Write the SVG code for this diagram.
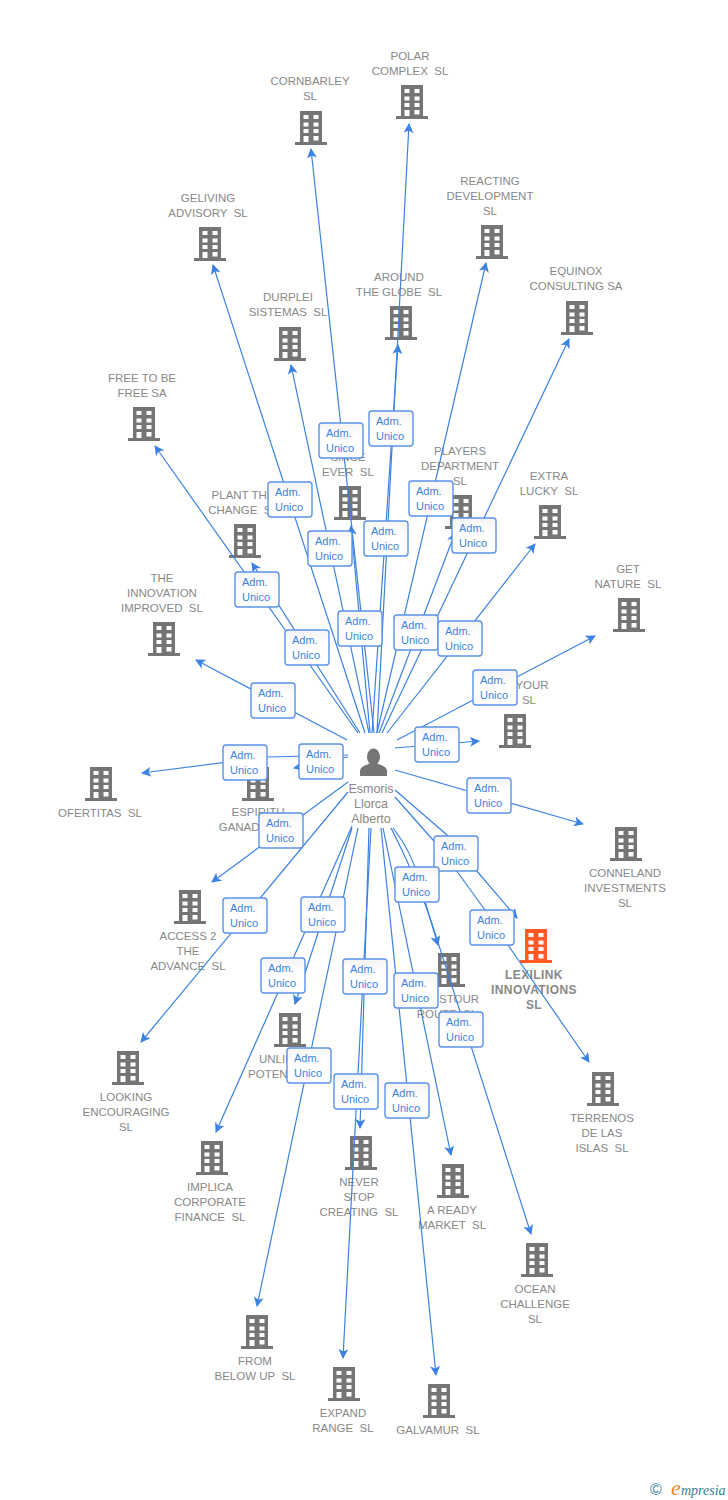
<svg xmlns="http://www.w3.org/2000/svg" width="728" height="1500" viewBox="0 0 728 1500">
<style>
.n{font:11.500px "Liberation Sans",Arial,sans-serif;fill:#888;text-anchor:middle;white-space:pre}
.b{font-size:12px;font-weight:700;letter-spacing:.4px}
.p{font-size:12.500px}
.c line,.c path{stroke:#3b82e3;stroke-width:1.2;fill:none;marker-end:url(#a)}
.r{fill:url(#g);stroke:#5b93e6;stroke-width:1.4}
.s{font:11px "Liberation Sans",Arial,sans-serif;fill:#3d82e0}
</style>
<defs>
<marker id="a" viewBox="0 0 10 10" refX="9" refY="5" markerWidth="10" markerHeight="10" markerUnits="userSpaceOnUse" orient="auto"><path d="M0 0L10 5L0 10L2.500 5Z" fill="#3b82e3" stroke="none"/></marker>
<linearGradient id="g" x1="0" y1="0" x2="0" y2="1"><stop offset="0" stop-color="#f4f4f4"/><stop offset=".4" stop-color="#fff"/></linearGradient>
<path id="t" fill-rule="evenodd" d="M-11 0H11V31H16V34H-16V31H-11ZM-7.500 4V8H-2.500V4ZM2.500 4V8H7.500V4ZM-7.500 11.500V15.500H-2.500V11.500ZM2.500 11.500V15.500H7.500V11.500ZM-7.500 18V22H-2.500V18ZM2.500 18V22H7.500V18ZM-7.500 25V31H-2.500V25ZM2.500 25V29.500H7.500V25Z"/>
<g id="s"><rect class="r" width="44" height="35" rx="3"/><text class="s" x="7" y="14">Adm.</text><text class="s" x="7" y="29">Unico</text></g>
</defs>
<g id="texts">
<text class="n" x="310" y="85">CORNBARLEY</text><text class="n" x="310" y="100">SL</text>
<text class="n" x="410" y="60">POLAR</text><text class="n" x="410" y="75">COMPLEX  SL</text>
<text class="n" x="208" y="202">GELIVING</text><text class="n" x="208" y="217">ADVISORY  SL</text>
<text class="n" x="490" y="185">REACTING</text><text class="n" x="490" y="200">DEVELOPMENT</text><text class="n" x="490" y="215">SL</text>
<text class="n" x="399" y="281">AROUND</text><text class="n" x="399" y="296">THE GLOBE  SL</text>
<text class="n" x="288" y="301">DURPLEI</text><text class="n" x="288" y="316">SISTEMAS  SL</text>
<text class="n" x="576" y="275">EQUINOX</text><text class="n" x="576" y="290">CONSULTING SA</text>
<text class="n" x="142" y="382">FREE TO BE</text><text class="n" x="142" y="397">FREE SA</text>
<text class="n" x="348" y="461">SINCE</text><text class="n" x="348" y="476">EVER  SL</text>
<text class="n" x="460" y="455">PLAYERS</text><text class="n" x="460" y="470">DEPARTMENT</text><text class="n" x="460" y="485">SL</text>
<text class="n" x="549" y="480">EXTRA</text><text class="n" x="549" y="495">LUCKY  SL</text>
<text class="n" x="243" y="499">PLANT THE</text><text class="n" x="243" y="514">CHANGE  SL</text>
<text class="n" x="628" y="573">GET</text><text class="n" x="628" y="588">NATURE  SL</text>
<text class="n" x="162" y="582">THE</text><text class="n" x="162" y="597">INNOVATION</text><text class="n" x="162" y="612">IMPROVED  SL</text>
<text class="n" x="532" y="689">YOUR</text><text class="n" x="529" y="704">SL</text>
<text class="n" x="100" y="817">OFERTITAS  SL</text>
<text class="n" x="258" y="816">ESPIRITU</text><text class="n" x="258" y="831">GANADOR  SL</text>
<text class="n" x="625" y="877">CONNELAND</text><text class="n" x="625" y="892">INVESTMENTS</text><text class="n" x="625" y="907">SL</text>
<text class="n" x="188" y="940">ACCESS 2</text><text class="n" x="188" y="955">THE</text><text class="n" x="188" y="970">ADVANCE  SL</text>
<text class="n b" x="534" y="979">LEXILINK</text><text class="n b" x="534" y="994">INNOVATIONS</text><text class="n b" x="534" y="1009">SL</text>
<text class="n" x="459" y="1003">STOUR</text><text class="n" x="447" y="1018">ROUTE  SL</text>
<text class="n" x="290" y="1063">UNLIMITED</text><text class="n" x="290" y="1078">POTENTIAL  SL</text>
<text class="n" x="126" y="1101">LOOKING</text><text class="n" x="126" y="1116">ENCOURAGING</text><text class="n" x="126" y="1131">SL</text>
<text class="n" x="602" y="1122">TERRENOS</text><text class="n" x="602" y="1137">DE LAS</text><text class="n" x="602" y="1152">ISLAS  SL</text>
<text class="n" x="210" y="1191">IMPLICA</text><text class="n" x="210" y="1206">CORPORATE</text><text class="n" x="210" y="1221">FINANCE  SL</text>
<text class="n" x="359" y="1186">NEVER</text><text class="n" x="359" y="1201">STOP</text><text class="n" x="359" y="1216">CREATING  SL</text>
<text class="n" x="452" y="1214">A READY</text><text class="n" x="452" y="1229">MARKET  SL</text>
<text class="n" x="535" y="1293">OCEAN</text><text class="n" x="535" y="1308">CHALLENGE</text><text class="n" x="535" y="1323">SL</text>
<text class="n" x="255" y="1365">FROM</text><text class="n" x="255" y="1380">BELOW UP  SL</text>
<text class="n" x="343" y="1417">EXPAND</text><text class="n" x="343" y="1432">RANGE  SL</text>
<text class="n" x="438" y="1434">GALVAMUR  SL</text>
</g>
<g fill="#757575">
<use id="polar" href="#t" x="412" y="85"/>
<use id="cornbarley" href="#t" x="311" y="111"/>
<use id="geliving" href="#t" x="210" y="227"/>
<use id="reacting" href="#t" x="492" y="225"/>
<use id="around" href="#t" x="401" y="306"/>
<use id="durplei" href="#t" x="290" y="327"/>
<use id="equinox" href="#t" x="577" y="301"/>
<use id="free" href="#t" x="144" y="407"/>
<use id="since" href="#t" x="350" y="486"/>
<use id="players" href="#t" x="461" y="495"/>
<use id="extra" href="#t" x="550" y="505"/>
<use id="plant" href="#t" x="245" y="524"/>
<use id="get" href="#t" x="629" y="598"/>
<use id="innovation" href="#t" x="164" y="622"/>
<use id="your" href="#t" x="515" y="714"/>
<use id="ofertitas" href="#t" x="101" y="767"/>
<use id="espiritu" href="#t" x="258" y="767"/>
<use id="conneland" href="#t" x="626" y="827"/>
<use id="access" href="#t" x="190" y="890"/>
<use id="lexilink" href="#t" x="536" y="929" fill="#ff5a26"/>
<use id="stour" href="#t" x="449" y="953"/>
<use id="unlimited" href="#t" x="290" y="1013"/>
<use id="looking" href="#t" x="128" y="1051"/>
<use id="terrenos" href="#t" x="603" y="1072"/>
<use id="implica" href="#t" x="212" y="1141"/>
<use id="never" href="#t" x="361" y="1136"/>
<use id="aready" href="#t" x="453" y="1164"/>
<use id="ocean" href="#t" x="537" y="1243"/>
<use id="from" href="#t" x="257" y="1315"/>
<use id="expand" href="#t" x="344" y="1367"/>
<use id="galvamur" href="#t" x="439" y="1384"/>
</g>
<g id="connectors" class="c">
<line x1="377" y1="733" x2="409" y2="124"/>
<line x1="374" y1="733" x2="311" y2="149"/>
<line x1="365" y1="733" x2="213" y2="265"/>
<line x1="377" y1="733" x2="486" y2="263"/>
<line x1="372" y1="733" x2="398" y2="345"/>
<line x1="369" y1="733" x2="291" y2="365"/>
<line x1="382" y1="733" x2="569" y2="339"/>
<line x1="358" y1="733" x2="155" y2="446"/>
<line x1="370" y1="733" x2="351" y2="526"/>
<line x1="379" y1="733" x2="455" y2="533"/>
<line x1="387" y1="733" x2="535" y2="544"/>
<line x1="360" y1="733" x2="252" y2="563"/>
<line x1="397" y1="740" x2="595" y2="636"/>
<line x1="347" y1="740" x2="196" y2="660"/>
<line x1="395" y1="748" x2="479" y2="741"/>
<path d="M348 755L267 757L142 773"/>
<line x1="348" y1="757" x2="294" y2="768"/>
<line x1="395" y1="770" x2="583" y2="824"/>
<line x1="348" y1="782" x2="212" y2="882"/>
<path d="M395 790L447 835L476 870L517 918"/>
<path d="M393 828Q412 852 418 878L438 945"/>
<path d="M395 797L433 840L456 870L485 910L508 945L589 1062"/>
<line x1="348" y1="792" x2="141" y2="1042"/>
<line x1="352" y1="828" x2="295" y2="1004"/>
<line x1="352" y1="826" x2="216" y2="1132"/>
<line x1="369" y1="828" x2="360" y2="1128"/>
<line x1="383" y1="828" x2="451" y2="1155"/>
<path d="M391 828Q420 885 435 933L531 1234"/>
<line x1="358" y1="828" x2="257" y2="1306"/>
<line x1="371" y1="828" x2="343" y2="1358"/>
<line x1="381" y1="828" x2="436" y2="1375"/>
</g>
<g id="person">
<ellipse cx="373.500" cy="757" rx="6.500" ry="8.500" fill="#757575"/>
<path d="M360 776V771Q360 767 366 765L371 763H376L381 765Q387 767 387 771V776Z" fill="#757575"/>
<text class="n p" x="371" y="793">Esmoris</text><text class="n p" x="371" y="808">Llorca</text><text class="n p" x="371" y="823">Alberto</text>
</g>
<g id="labels">
<use href="#s" x="319" y="423"/><use href="#s" x="369" y="411"/><use href="#s" x="268" y="482"/><use href="#s" x="409" y="481"/>
<use href="#s" x="364" y="521"/><use href="#s" x="308" y="531"/><use href="#s" x="452" y="518"/><use href="#s" x="235" y="572"/>
<use href="#s" x="285" y="630"/><use href="#s" x="338" y="611"/><use href="#s" x="394" y="615"/><use href="#s" x="438" y="621"/>
<use href="#s" x="473" y="670"/><use href="#s" x="251" y="683"/><use href="#s" x="415" y="727"/><use href="#s" x="223" y="745"/>
<use href="#s" x="299" y="744"/><use href="#s" x="467" y="778"/><use href="#s" x="259" y="813"/><use href="#s" x="434" y="836"/>
<use href="#s" x="395" y="867"/><use href="#s" x="470" y="910"/><use href="#s" x="223" y="898"/><use href="#s" x="301" y="897"/>
<use href="#s" x="261" y="958"/><use href="#s" x="343" y="959"/><use href="#s" x="394" y="973"/><use href="#s" x="439" y="1012"/>
<use href="#s" x="287" y="1048"/><use href="#s" x="334" y="1074"/><use href="#s" x="385" y="1083"/>
</g>
<g id="logo">
<text x="650" y="1495" font-family="'Liberation Sans',sans-serif" font-size="16" fill="#3f7f9f">©</text>
<text x="671" y="1495" font-family="'Liberation Serif',serif" font-style="italic" font-size="22" fill="#f08a1e">e</text>
<text x="681" y="1495" font-family="'Liberation Serif',serif" font-style="italic" font-size="14" fill="#2f7f8f">mpresia</text>
</g>
</svg>
